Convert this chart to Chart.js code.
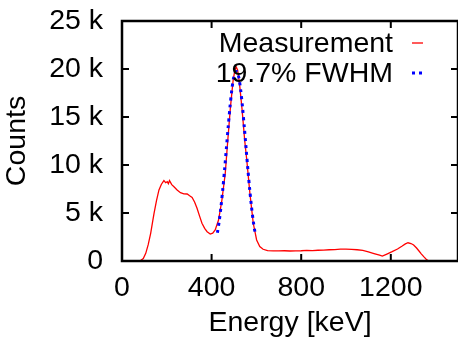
<!DOCTYPE html>
<html>
<head>
<meta charset="utf-8">
<script src="https://cdn.jsdelivr.net/npm/chart.js@4"></script>
<style>
  html, body { margin: 0; padding: 0; background: #fff; }
  #wrap { width: 458px; height: 337px; }
</style>
</head>
<body>
<div id="wrap"><canvas id="spectrum" width="458" height="337"></canvas></div>
<script>
// Energy spectrum: measured counts plus a gaussian fit of the photopeak

const measEnergy = [0, 80, 95, 106, 117, 128, 136, 143, 154, 165, 176, 187, 195, 202, 207, 212, 222, 232, 246, 261, 276, 291, 302, 313, 324, 335, 346, 357, 369, 380, 394, 405, 416, 431, 446, 461, 472, 484, 496, 504, 510, 516, 524, 536, 548, 557, 571, 586, 601, 615, 630, 650, 675, 700, 725, 750, 775, 800, 825, 850, 875, 900, 925, 950, 975, 1000, 1025, 1050, 1075, 1100, 1125, 1150, 1162, 1180, 1206, 1230, 1251, 1265, 1277, 1290, 1302, 1315, 1325, 1336, 1347, 1358, 1369, 1400, 1500];
const measCounts = [0, 0, 250, 800, 1700, 2880, 4000, 4970, 6300, 7400, 8000, 8370, 8150, 8260, 8050, 8370, 7950, 7740, 7400, 7120, 7000, 6980, 6800, 6630, 6150, 5490, 4700, 3930, 3400, 3050, 2810, 2900, 3230, 4270, 6350, 9140, 12500, 16000, 18800, 19900, 20200, 19900, 18600, 15800, 12500, 10520, 7050, 3930, 2190, 1500, 1220, 1080, 1060, 1050, 1070, 1040, 1060, 1070, 1100, 1090, 1120, 1130, 1170, 1180, 1230, 1240, 1220, 1170, 1100, 950, 780, 600, 520, 700, 970, 1250, 1560, 1780, 1900, 1820, 1670, 1350, 1070, 750, 450, 180, 0, 0, 0];

const fitEnergy = [426, 434, 442, 450, 458, 466, 474, 482, 490, 498, 506, 514, 522, 530, 538, 546, 554, 562, 570, 578, 586, 594];
const fitCounts = [2940, 4150, 5670, 7480, 9530, 11730, 13950, 16020, 17780, 19050, 19720, 19720, 19050, 17780, 16020, 13950, 11730, 9530, 7480, 5670, 4150, 2940];

const xTicks = [0, 400, 800, 1200];
const yTicks = [0, 5000, 10000, 15000, 20000, 25000];
const legendLabels = ['Measurement', '19.7% FWHM'];

const FONT = 'Liberation Sans, Arial, Helvetica, sans-serif';
const FS = 28.5;

function pts(xs, ys) {
  return xs.map((x, i) => ({ x: x, y: ys[i] }));
}

// gnuplot style frame with inward ticks on all four sides
const framePlugin = {
  id: 'frame',
  afterDatasetsDraw(chart) {
    const { ctx, chartArea: a, scales } = chart;
    ctx.save();
    ctx.strokeStyle = '#000';
    ctx.lineWidth = 2.5;
    ctx.strokeRect(a.left, a.top, a.right - a.left, a.bottom - a.top);
    ctx.lineWidth = 2;
    const len = 7;
    ctx.beginPath();
    xTicks.forEach(v => {
      const px = scales.x.getPixelForValue(v);
      if (px <= a.left + 1 || px >= a.right - 1) return;
      ctx.moveTo(px, a.bottom); ctx.lineTo(px, a.bottom - len);
      ctx.moveTo(px, a.top); ctx.lineTo(px, a.top + len);
    });
    yTicks.forEach(v => {
      const py = scales.y.getPixelForValue(v);
      if (py <= a.top + 1 || py >= a.bottom - 1) return;
      ctx.moveTo(a.left, py); ctx.lineTo(a.left + len, py);
      ctx.moveTo(a.right, py); ctx.lineTo(a.right - len, py);
    });
    ctx.stroke();
    ctx.restore();
  }
};

// key in the top right corner: text right aligned, sample to its right
const keyPlugin = {
  id: 'key',
  afterDraw(chart) {
    const { ctx, chartArea: a } = chart;
    const ds = chart.data.datasets;
    ctx.save();
    ctx.font = FS + 'px ' + FONT;
    ctx.fillStyle = '#000';
    ctx.textAlign = 'right';
    ctx.textBaseline = 'alphabetic';
    legendLabels.forEach((label, i) => {
      const base = a.top + 31 + i * 30;
      ctx.fillText(label, 393, base);
      ctx.strokeStyle = ds[i].borderColor;
      ctx.lineWidth = ds[i].borderWidth;
      ctx.setLineDash(ds[i].borderDash || []);
      ctx.beginPath();
      ctx.moveTo(412, base - 9);
      ctx.lineTo(423, base - 9);
      ctx.stroke();
    });
    ctx.restore();
  }
};

new Chart(document.getElementById('spectrum'), {
  type: 'line',
  data: {
    datasets: [
      {
        label: legendLabels[0],
        data: pts(measEnergy, measCounts),
        borderColor: '#ff0000',
        borderWidth: 1.3,
        pointRadius: 0,
        tension: 0,
        order: 1
      },
      {
        label: legendLabels[1],
        data: pts(fitEnergy, fitCounts),
        borderColor: '#0000ff',
        borderWidth: 3,
        borderDash: [3, 4],
        borderCapStyle: 'butt',
        pointRadius: 0,
        tension: 0.3,
        order: 0
      }
    ]
  },
  options: {
    responsive: false,
    animation: false,
    layout: { padding: { top: 21, left: 0, right: 0, bottom: 0 } },
    plugins: { legend: { display: false }, tooltip: { enabled: false } },
    scales: {
      x: {
        type: 'linear',
        min: 0,
        max: 1500,
        afterBuildTicks: s => { s.ticks = xTicks.map(v => ({ value: v })); },
        afterFit: s => { s.height = 76; s.paddingLeft = 0; s.paddingRight = 0; },
        grid: { display: false },
        border: { display: false },
        ticks: {
          color: '#000',
          padding: 2,
          maxRotation: 0,
          font: { family: FONT, size: FS },
          callback: v => String(v)
        },
        title: {
          display: true,
          text: 'Energy [keV]',
          color: '#000',
          padding: 0,
          font: { family: FONT, size: FS, lineHeight: 1 }
        }
      },
      y: {
        min: 0,
        max: 25000,
        afterBuildTicks: s => { s.ticks = yTicks.map(v => ({ value: v })); },
        afterFit: s => { s.width = 122; s.paddingTop = 0; s.paddingBottom = 0; },
        grid: { display: false },
        border: { display: false },
        ticks: {
          color: '#000',
          padding: 11,
          font: { family: FONT, size: FS },
          callback: v => v === 0 ? '0' : (v / 1000) + ' k'
        },
        title: {
          display: true,
          text: 'Counts',
          color: '#000',
          padding: { top: 3, bottom: 0 },
          font: { family: FONT, size: FS, lineHeight: 1 }
        }
      }
    }
  },
  plugins: [framePlugin, keyPlugin]
});
</script>
</body>
</html>
